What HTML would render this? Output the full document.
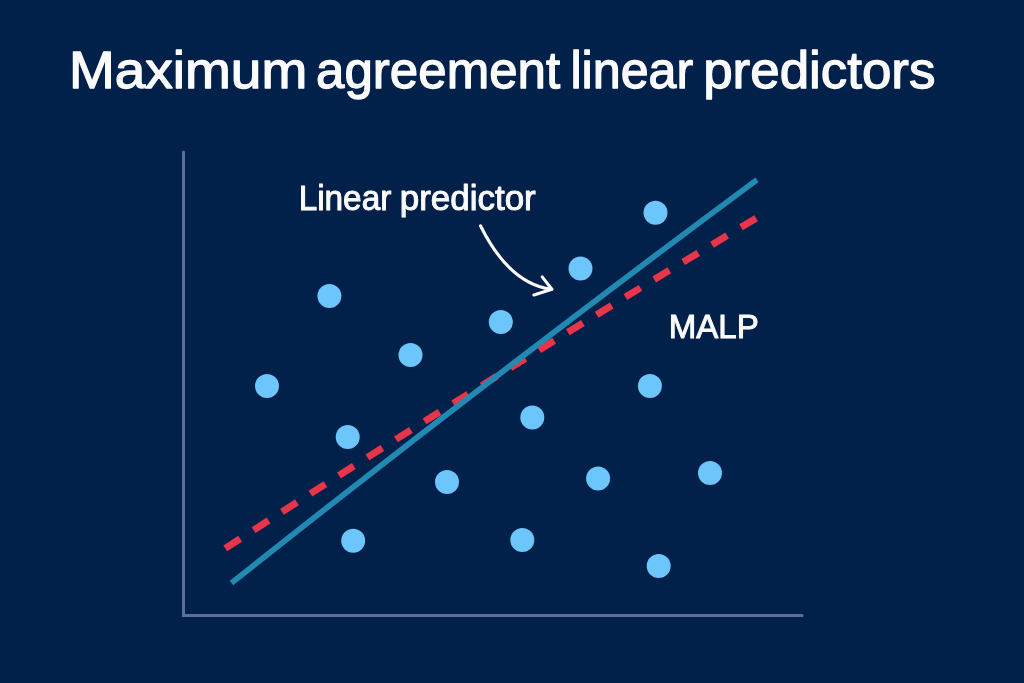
<!DOCTYPE html>
<html lang="en">
<head>
<meta charset="utf-8">
<title>Maximum agreement linear predictors</title>
<style>
  html, body { margin: 0; padding: 0; background: #01214a; }
  body { width: 1024px; height: 683px; overflow: hidden; position: relative; }
  svg { position: absolute; left: 0; top: 0; display: block; }
  text { font-family: "Liberation Sans", sans-serif; fill: #fbfbfb; stroke: #fbfbfb; stroke-linejoin: round; }
  .title { font-size: 52px; stroke-width: 1.3px; }
  .lbl { font-size: 34.4px; stroke-width: 1.0px; }
  .malp { font-size: 34px; stroke-width: 1.0px; }
</style>
</head>
<body>
<svg width="1024" height="683" viewBox="0 0 1024 683">
  <rect x="0" y="0" width="1024" height="683" fill="#01214a"/>

  <!-- title -->
  <g class="title">
    <text x="68.98" y="87.9" textLength="238.23" lengthAdjust="spacingAndGlyphs">Maximum</text>
    <text x="316.07" y="87.9" textLength="244.08" lengthAdjust="spacingAndGlyphs">agreement</text>
    <text x="570.41" y="87.9" textLength="122.89" lengthAdjust="spacingAndGlyphs">linear</text>
    <text x="703.20" y="87.9" textLength="232.23" lengthAdjust="spacingAndGlyphs">predictors</text>
  </g>

  <!-- axes -->
  <path d="M183.5 152 V615.5 H802.1" fill="none" stroke="#5b7099" stroke-width="3" stroke-linecap="round" stroke-linejoin="miter"/>

  <!-- dots -->
  <g fill="#6cc5fb">
    <circle cx="329.4" cy="295.9" r="12"/>
    <circle cx="655.5" cy="212.8" r="12"/>
    <circle cx="580.5" cy="268.5" r="12"/>
    <circle cx="500.8" cy="321.9" r="12"/>
    <circle cx="410.5" cy="355.0" r="12"/>
    <circle cx="267.0" cy="385.9" r="12"/>
    <circle cx="649.9" cy="386.1" r="12"/>
    <circle cx="532.3" cy="417.5" r="12"/>
    <circle cx="347.7" cy="437.1" r="12"/>
    <circle cx="710.0" cy="472.9" r="12"/>
    <circle cx="598.1" cy="478.6" r="12"/>
    <circle cx="447.0" cy="481.9" r="12"/>
    <circle cx="353.2" cy="540.8" r="12"/>
    <circle cx="522.3" cy="540.0" r="12"/>
    <circle cx="658.7" cy="566.0" r="12"/>
  </g>

  <!-- MALP dashed line -->
  <path d="M225.3 548.4 Q487.9 378.5 756.4 218.0" fill="none" stroke="#e8354a" stroke-width="7" stroke-dasharray="17.7 16.05"/>

  <!-- linear predictor line -->
  <path d="M231.5 583.0 Q491.0 376.9 757 179.7" fill="none" stroke="#2289b3" stroke-width="5.7"/>

  <!-- labels -->
  <g class="lbl">
    <text x="298.64" y="210.1" textLength="92.69" lengthAdjust="spacingAndGlyphs">Linear</text>
    <text x="399.76" y="210.1" textLength="135.99" lengthAdjust="spacingAndGlyphs">predictor</text>
  </g>
  <text class="malp" x="668.66" y="338.3" textLength="90.09" lengthAdjust="spacingAndGlyphs">MALP</text>

  <!-- arrow -->
  <g fill="none" stroke="#fbfbfb" stroke-width="3.1" stroke-linecap="round" stroke-linejoin="round">
    <path d="M480.5 225.8 C494.1 253.3 516.8 284.8 551.7 289.4"/>
    <path d="M542.2 276.9 L551.9 289.3 L533.9 295.0"/>
  </g>
</svg>
</body>
</html>
